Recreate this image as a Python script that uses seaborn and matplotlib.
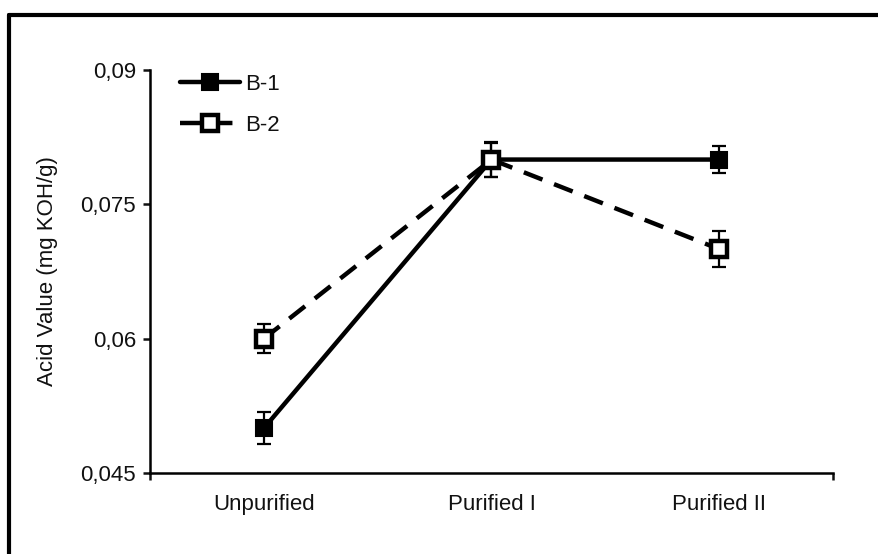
import matplotlib
matplotlib.use("Agg")
import matplotlib.pyplot as plt
import seaborn as sns
from matplotlib.lines import Line2D

# -----------------------------
# Data
# -----------------------------
categories = ["Unpurified", "Purified I", "Purified II"]
b1_values = [0.050, 0.080, 0.080]
b1_errors = [0.0018, 0.0019, 0.0015]
b2_values = [0.060, 0.080, 0.070]
b2_errors = [0.0016, 0.0020, 0.0020]
ytick_values = [0.045, 0.06, 0.075, 0.09]
ytick_labels = ["0,045", "0,06", "0,075", "0,09"]

# -----------------------------
# Style
# -----------------------------
sns.set_style("ticks")
plt.rcParams["font.family"] = ["Liberation Sans", "DejaVu Sans"]
plt.rcParams.update({"text.color": "#111111", "axes.labelcolor": "#111111",
                     "xtick.color": "#111111", "ytick.color": "#111111",
                     "axes.edgecolor": "black"})
fs = 16

fig = plt.figure(figsize=(8.79, 5.54), dpi=100)
ax = fig.add_axes([150 / 879, 1 - 473 / 554, (833 - 150) / 879, (473 - 70) / 554])

# error bars first so markers sit on top
ax.errorbar(categories, b1_values, yerr=b1_errors, fmt="none", ecolor="black",
            elinewidth=1.6, capsize=5, capthick=1.6, zorder=2)
ax.errorbar(categories, b2_values, yerr=b2_errors, fmt="none", ecolor="black",
            elinewidth=1.6, capsize=5, capthick=1.6, zorder=2)

sns.lineplot(x=categories, y=b1_values, ax=ax, color="black", lw=3.2,
             marker="s", markersize=12, mfc="black", mec="black", mew=1.5,
             label="B-1", sort=False, zorder=3)
sns.lineplot(x=categories, y=b2_values, ax=ax, color="black", lw=3.2,
             linestyle=(0, (4.5, 2.8)),
             marker="s", markersize=12, mfc="white", mec="black", mew=3.2,
             label="B-2", sort=False, zorder=4)

# -----------------------------
# Axes
# -----------------------------
ax.set_xlim(-0.5, 2.5)
ax.set_ylim(0.045, 0.09)
ax.set_yticks(ytick_values, labels=ytick_labels)
ax.set_xticks([-0.5, 2.5], minor=True)
ax.tick_params(axis="x", which="major", length=0, labelsize=fs, pad=15)
ax.tick_params(axis="x", which="minor", length=5, width=1.8, direction="out")
ax.tick_params(axis="y", length=5, width=1.8, labelsize=fs, pad=5)
ax.set_ylabel("Acid Value (mg KOH/g)", fontsize=fs, labelpad=16)
ax.set_xlabel("")
sns.despine(ax=ax)
for side in ["left", "bottom"]:
    ax.spines[side].set_linewidth(1.8)

leg = ax.legend(loc="upper left", bbox_to_anchor=(0.015, 1.04), frameon=False,
                fontsize=fs, handlelength=2.7, handletextpad=0.2, labelspacing=0.9)

# frame around the figure
fig.add_artist(Line2D([9 / 879, 9 / 879], [0, 1 - 15 / 554], transform=fig.transFigure,
                      color="black", lw=3))
fig.add_artist(Line2D([9 / 879, 1], [1 - 15 / 554, 1 - 15 / 554], transform=fig.transFigure,
                      color="black", lw=3))

fig.savefig("out.png", dpi=100)
